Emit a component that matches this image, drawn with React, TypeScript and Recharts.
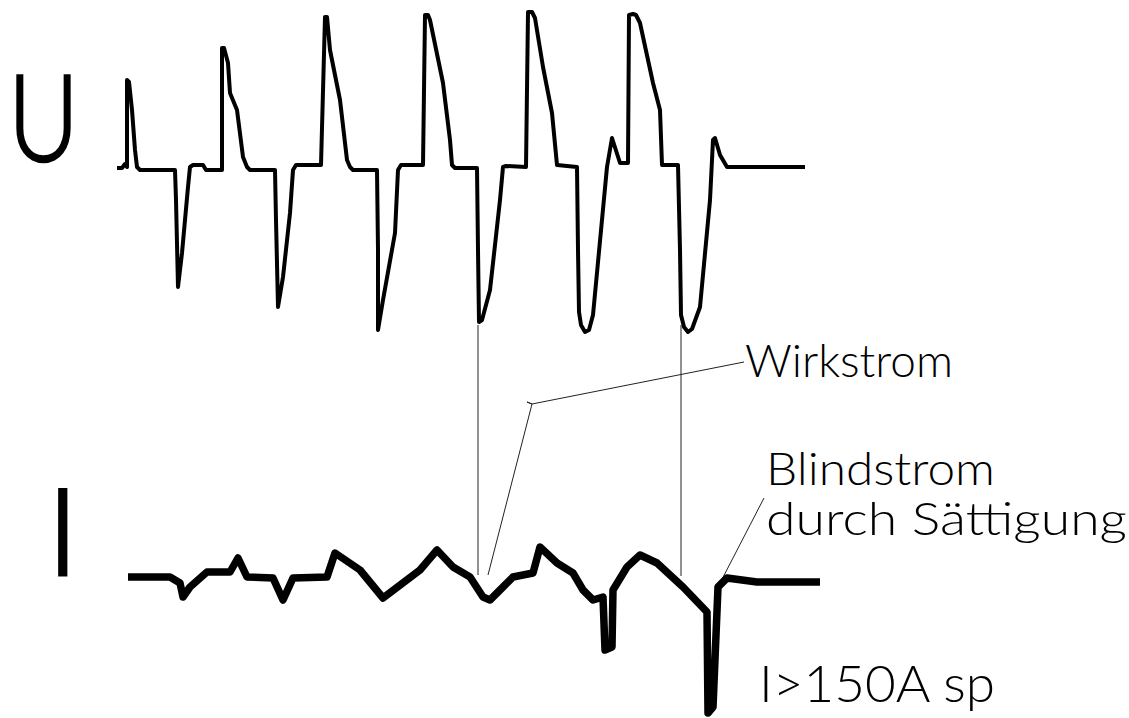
import React from 'react'
import { LineChart, Line, XAxis, YAxis } from 'recharts'

// Oszillogramm: Spannung U (oben) und Strom I (unten), Zeitachse in Bildspalten
const U_T = [117, 122, 125, 127, 127, 129, 132, 135, 137, 140, 175, 176, 178, 182, 188, 190, 193, 203, 206, 222, 222, 224, 228, 230, 237, 243, 247, 250, 275, 276, 278, 283, 290, 293, 296, 321, 325, 327, 330, 340, 347, 350, 353, 377, 378, 378, 383, 395, 398, 401, 423, 425, 428, 430, 443, 450, 452, 455, 477, 478, 479, 482, 490, 500, 503, 506, 526, 528, 532, 535, 543, 552, 557, 577, 578, 579, 581, 585, 589, 593, 607, 612, 620, 628, 629, 633, 636, 640, 653, 660, 662, 678, 680, 681, 684, 688, 692, 700, 710, 713, 715, 720, 727, 805]
const U_VAL = [-1, -1, 3, 0, 87, 85, 57, 17, 0, -3, -3, -33, -120, -86, -20, 0, 2, 2, -3, -3, 119, 119, 104, 74, 57, 10, 0, -3, -3, -53, -140, -110, -46, -3, 2, 2, 150, 150, 117, 67, 7, 0, -3, -3, -83, -163, -133, -66, -3, 2, 2, 152, 152, 147, 84, 27, 2, -1, -1, -83, -155, -153, -123, -33, 0, 1, 0, 155, 155, 149, 100, 54, 2, 0, -83, -145, -158, -165, -163, -148, 0, 29, 4, 4, 152, 153, 152, 144, 84, 57, 2, 2, -83, -148, -160, -165, -162, -140, -33, 27, 29, 12, 0, 0]

const I_T = [128, 170, 180, 183, 190, 207, 230, 238, 247, 273, 283, 293, 327, 335, 360, 383, 420, 437, 453, 470, 483, 490, 503, 513, 533, 540, 557, 573, 583, 593, 603, 605, 612, 613, 627, 640, 657, 683, 707, 708, 713, 718, 727, 757, 820]
const I_VAL = [1, 1, -5, -19, -9, 6, 6, 20, 1, 0, -22, 0, 1, 25, 8, -20, 8, 28, 11, 1, -19, -22, -9, 1, 5, 31, 15, 5, -12, -22, -19, -72, -69, -12, 11, 23, 15, -9, -34, -135, -129, -9, 0, -4, -4]

// Hilfslinien (Bildzeilen von oben)
const LEADER_WIRK = [[744, 362], [532, 404], [527, 402], [532, 404], [488, 575]]
const LEADER_BLIND = [[764, 498], [718, 587]]
const DROP_1 = [[478, 325], [478, 575]]
const DROP_2 = [[681, 325], [681, 576]]

const uData = U_T.map((t, i) => ({ t, u: U_VAL[i] }))
const iData = I_T.map((t, i) => ({ t, i: I_VAL[i] }))
const seg = (pts: number[][]) => pts.map(([t, y]) => ({ t, y }))

const W = 1129
const H = 718
const FONT = 'Lato, "Liberation Sans", sans-serif'

export default function App() {
  return (
    <div style={{ position: 'absolute', left: 0, top: 0, width: W, height: H, background: '#fff' }}>
      <LineChart width={W} height={H} margin={{ top: 0, right: 0, bottom: 0, left: 0 }}>
        <XAxis type="number" dataKey="t" domain={[0, W]} hide allowDataOverflow />
        <YAxis yAxisId="u" type="number" domain={[167 - H, 167]} hide allowDataOverflow />
        <YAxis yAxisId="i" type="number" domain={[578 - H, 578]} hide allowDataOverflow />
        <YAxis yAxisId="px" type="number" domain={[0, H]} reversed hide allowDataOverflow />

        {[DROP_1, DROP_2, LEADER_WIRK, LEADER_BLIND].map((s, k) => (
          <Line key={k} yAxisId="px" data={seg(s)} dataKey="y" type="linear" stroke="#222" strokeWidth={1}
            dot={false} activeDot={false} isAnimationActive={false} />
        ))}

        <Line yAxisId="u" data={uData} dataKey="u" type="linear" stroke="#000" strokeWidth={4}
          strokeLinejoin="round" dot={false} activeDot={false} isAnimationActive={false} />
        <Line yAxisId="i" data={iData} dataKey="i" type="linear" stroke="#000" strokeWidth={7.5}
          strokeLinejoin="round" dot={false} activeDot={false} isAnimationActive={false} />
      </LineChart>

      <svg width={W} height={H} style={{ position: 'absolute', left: 0, top: 0, pointerEvents: 'none' }}>
        <g fontFamily={FONT} fill="#000">
          <text x={8} y={161} fontSize={121} fontWeight={300} stroke="#000" strokeWidth={2.5}
            textLength={71} lengthAdjust="spacingAndGlyphs">U</text>
          <text x={47} y={575} fontSize={121} fontWeight={300} stroke="#000" strokeWidth={3}>I</text>
          <text x={745} y={377} fontSize={46} fontWeight={300} textLength={208} lengthAdjust="spacingAndGlyphs">Wirkstrom</text>
          <text x={766} y={485} fontSize={46} fontWeight={300} textLength={229} lengthAdjust="spacingAndGlyphs">Blindstrom</text>
          <text x={766} y={535} fontSize={46} fontWeight={300} textLength={361} lengthAdjust="spacingAndGlyphs">durch Sättigung</text>
          <text x={759} y={702} fontSize={52} fontWeight={300} textLength={236} lengthAdjust="spacingAndGlyphs">I&gt;150A sp</text>
        </g>
      </svg>
    </div>
  )
}
